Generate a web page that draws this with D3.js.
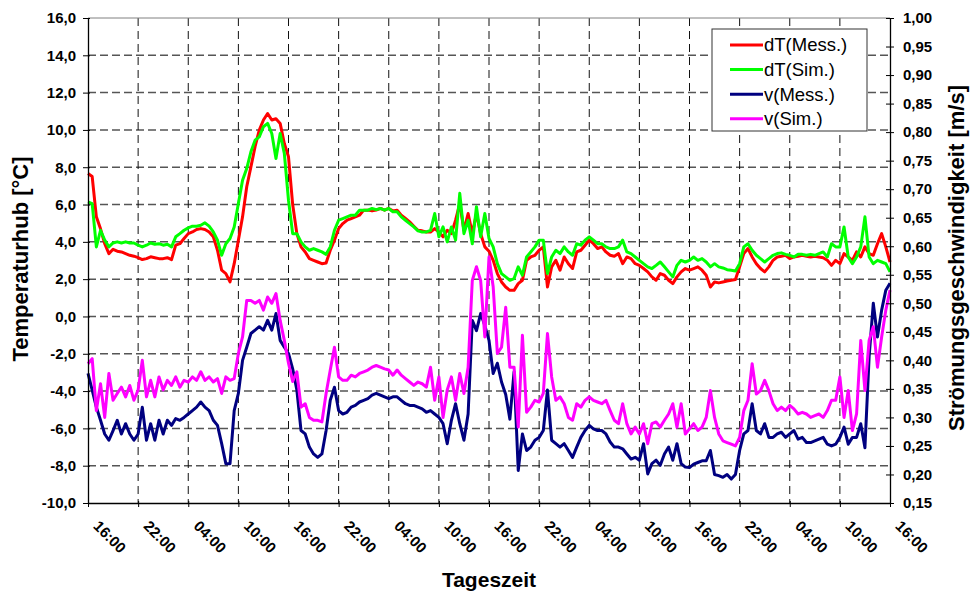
<!DOCTYPE html>
<html>
<head>
<meta charset="utf-8">
<script src="https://cdn.jsdelivr.net/npm/d3@7"></script>
<style>
  html, body { margin: 0; padding: 0; background: #fff; }
  svg { display: block; }
</style>
</head>
<body>
<svg width="973" height="594" font-family="Arial, 'Liberation Sans', sans-serif"></svg>
<script>
// half-hour readings, starting 16:00 on day one (hour 0) up to hour 96
const stepHours = 0.5

const timeLabels = ['16:00', '22:00', '04:00', '10:00', '16:00', '22:00', '04:00', '10:00',
    '16:00', '22:00', '04:00', '10:00', '16:00', '22:00', '04:00', '10:00', '16:00']
const tempTicks = [-10, -8, -6, -4, -2, 0, 2, 4, 6, 8, 10, 12, 14, 16]
const speedTicks = [0.15, 0.20, 0.25, 0.30, 0.35, 0.40, 0.45, 0.50, 0.55, 0.60,
    0.65, 0.70, 0.75, 0.80, 0.85, 0.90, 0.95, 1.00]

// dT measured [°C]
const dtMess = [
    7.66, 7.5, 5.34, 4.7, 3.9, 3.37, 3.6, 3.5, 3.46, 3.37, 3.28, 3.23,
    3.15, 3.05, 3.1, 3.2, 3.15, 3.1, 3.1, 3.15, 3.05, 3.82, 3.9, 4.18,
    4.44, 4.53, 4.66, 4.71, 4.66, 4.53, 4.27, 3.55, 2.48, 2.3, 1.85, 2.83,
    4.09, 5.34, 6.95, 8.02, 9.1, 9.99, 10.53, 10.88, 10.53, 10.6, 10.35, 9.27,
    8.56, 6.0, 4.44, 3.73, 3.46, 3.1, 3.01, 2.92, 2.83, 2.87, 3.55, 4.09,
    4.71, 4.98, 5.16, 5.25, 5.34, 5.43, 5.7, 5.7, 5.66, 5.7, 5.79, 5.7,
    5.79, 5.66, 5.7, 5.43, 5.25, 5.07, 4.84, 4.62, 4.59, 4.53, 4.53, 4.71,
    4.53, 4.27, 4.62, 4.44, 5.16, 6.05, 4.62, 5.52, 4.44, 5.52, 4.44, 3.73,
    3.5, 3.01, 2.3, 1.85, 1.58, 1.4, 1.4, 1.76, 1.94, 3.01, 3.19, 3.28,
    3.55, 3.73, 1.58, 2.66, 3.01, 2.48, 3.19, 2.83, 2.57, 3.46, 3.55, 3.82,
    4.09, 3.9, 3.64, 3.73, 3.46, 3.28, 3.23, 3.37, 2.83, 3.19, 3.1, 2.83,
    2.74, 2.57, 2.39, 2.12, 1.94, 2.3, 2.21, 1.94, 1.76, 2.12, 2.39, 2.57,
    2.48, 2.57, 2.66, 2.48, 2.21, 1.58, 1.85, 1.8, 1.85, 1.9, 1.94, 1.98,
    2.66, 3.37, 3.64, 3.19, 2.83, 2.57, 2.39, 2.66, 3.01, 3.19, 3.23, 3.28,
    3.1, 3.19, 3.23, 3.28, 3.23, 3.19, 3.23, 3.19, 3.15, 3.01, 2.74, 3.01,
    2.83, 3.37, 3.19, 3.01, 3.46, 3.19, 3.73, 3.37, 3.28, 3.9, 4.44, 3.73,
    2.92]

// dT simulated [°C]
const dtSim = [
    6.14, 6.05, 3.73, 4.62, 4.09, 3.73, 3.94, 4.0, 3.94, 4.0, 3.94, 3.94,
    3.82, 3.73, 3.82, 3.94, 3.87, 3.9, 3.82, 3.87, 3.73, 4.27, 4.44, 4.62,
    4.75, 4.84, 4.84, 4.89, 5.02, 4.84, 4.53, 4.09, 3.28, 3.9, 4.18, 4.8,
    6.05, 7.3, 7.93, 8.83, 9.45, 9.63, 10.17, 10.35, 9.81, 8.47, 9.81, 8.74,
    6.23, 4.44, 4.44, 4.0, 3.73, 3.55, 3.64, 3.55, 3.46, 3.33, 3.73, 4.62,
    5.16, 5.25, 5.34, 5.43, 5.43, 5.7, 5.7, 5.7, 5.79, 5.73, 5.79, 5.7,
    5.79, 5.61, 5.61, 5.34, 5.16, 4.98, 4.8, 4.59, 4.53, 4.53, 4.62, 5.52,
    4.27, 4.8, 4.0, 4.8, 4.09, 6.6, 4.44, 5.16, 3.9, 5.88, 4.27, 5.52,
    4.18, 3.73, 2.83, 2.3, 2.12, 1.94, 2.03, 2.66, 2.21, 3.19, 3.46, 3.73,
    4.09, 4.09, 2.3, 3.19, 3.55, 3.37, 3.73, 3.46, 3.28, 3.9, 3.82, 4.09,
    4.27, 4.09, 3.9, 3.9, 3.73, 3.64, 3.64, 3.73, 4.09, 3.46, 3.37, 3.19,
    3.01, 2.83, 2.66, 2.57, 2.74, 2.92, 2.66, 2.39, 2.12, 2.74, 3.01, 2.92,
    3.01, 3.19, 3.01, 3.1, 2.92, 2.66, 2.83, 2.66, 2.6, 2.51, 2.48, 2.44,
    2.83, 3.73, 3.9, 3.55, 3.28, 3.1, 2.92, 3.1, 3.28, 3.37, 3.41, 3.33,
    3.28, 3.19, 3.33, 3.33, 3.28, 3.33, 3.28, 3.37, 3.46, 3.19, 3.9, 3.73,
    3.73, 4.8, 3.19, 2.83, 3.19, 3.73, 5.34, 3.19, 2.83, 3.01, 2.92, 2.83,
    2.39]

// flow speed measured [m/s]
const vMess = [
    0.377, 0.348, 0.318, 0.295, 0.271, 0.260, 0.277, 0.295, 0.271, 0.289, 0.271, 0.260,
    0.271, 0.318, 0.260, 0.289, 0.260, 0.295, 0.271, 0.295, 0.286, 0.298, 0.295, 0.300,
    0.306, 0.312, 0.318, 0.327, 0.318, 0.312, 0.295, 0.286, 0.254, 0.219, 0.219, 0.312,
    0.342, 0.400, 0.423, 0.447, 0.453, 0.459, 0.453, 0.470, 0.453, 0.482, 0.435, 0.423,
    0.412, 0.385, 0.348, 0.277, 0.271, 0.248, 0.236, 0.230, 0.236, 0.277, 0.330, 0.353,
    0.312, 0.306, 0.309, 0.318, 0.321, 0.327, 0.330, 0.333, 0.339, 0.342, 0.339, 0.336,
    0.333, 0.336, 0.336, 0.330, 0.324, 0.321, 0.321, 0.318, 0.315, 0.309, 0.312, 0.306,
    0.300, 0.289, 0.254, 0.295, 0.324, 0.289, 0.260, 0.306, 0.470, 0.452, 0.482, 0.461,
    0.435, 0.377, 0.395, 0.362, 0.340, 0.297, 0.380, 0.207, 0.271, 0.242, 0.248, 0.260,
    0.265, 0.277, 0.348, 0.260, 0.254, 0.248, 0.254, 0.242, 0.230, 0.248, 0.265, 0.277,
    0.286, 0.280, 0.277, 0.277, 0.271, 0.257, 0.248, 0.248, 0.245, 0.236, 0.227, 0.230,
    0.225, 0.254, 0.201, 0.219, 0.225, 0.216, 0.236, 0.248, 0.225, 0.254, 0.219, 0.213,
    0.212, 0.218, 0.221, 0.224, 0.224, 0.242, 0.200, 0.198, 0.195, 0.200, 0.192, 0.200,
    0.242, 0.271, 0.277, 0.324, 0.277, 0.271, 0.289, 0.265, 0.265, 0.271, 0.274, 0.265,
    0.271, 0.277, 0.262, 0.265, 0.256, 0.256, 0.259, 0.262, 0.265, 0.253, 0.250, 0.253,
    0.265, 0.283, 0.253, 0.265, 0.265, 0.289, 0.247, 0.406, 0.500, 0.441, 0.488, 0.523,
    0.535]

// flow speed simulated [m/s]
const vSim = [
    0.394, 0.403, 0.312, 0.359, 0.300, 0.377, 0.330, 0.342, 0.353, 0.336, 0.356, 0.330,
    0.348, 0.400, 0.336, 0.365, 0.336, 0.371, 0.348, 0.365, 0.356, 0.371, 0.353, 0.365,
    0.362, 0.371, 0.365, 0.380, 0.365, 0.371, 0.362, 0.368, 0.342, 0.371, 0.365, 0.368,
    0.412, 0.441, 0.505, 0.505, 0.500, 0.505, 0.488, 0.511, 0.500, 0.517, 0.470, 0.435,
    0.395, 0.363, 0.380, 0.318, 0.324, 0.300, 0.295, 0.295, 0.292, 0.342, 0.383, 0.423,
    0.371, 0.365, 0.365, 0.374, 0.371, 0.377, 0.380, 0.383, 0.388, 0.391, 0.388, 0.385,
    0.383, 0.374, 0.383, 0.374, 0.368, 0.362, 0.356, 0.362, 0.359, 0.353, 0.388, 0.330,
    0.371, 0.300, 0.348, 0.371, 0.330, 0.377, 0.342, 0.388, 0.540, 0.564, 0.540, 0.441,
    0.581, 0.529, 0.412, 0.423, 0.493, 0.388, 0.388, 0.283, 0.444, 0.309, 0.318, 0.330,
    0.327, 0.342, 0.447, 0.371, 0.330, 0.336, 0.324, 0.300, 0.295, 0.324, 0.318, 0.330,
    0.336, 0.330, 0.327, 0.324, 0.330, 0.312, 0.295, 0.289, 0.324, 0.289, 0.271, 0.283,
    0.271, 0.289, 0.254, 0.289, 0.292, 0.283, 0.295, 0.306, 0.324, 0.283, 0.324, 0.271,
    0.280, 0.289, 0.277, 0.283, 0.300, 0.347, 0.300, 0.271, 0.259, 0.256, 0.253, 0.250,
    0.265, 0.312, 0.330, 0.394, 0.341, 0.347, 0.365, 0.347, 0.324, 0.312, 0.318, 0.312,
    0.321, 0.315, 0.306, 0.309, 0.306, 0.300, 0.303, 0.306, 0.300, 0.312, 0.330, 0.330,
    0.371, 0.300, 0.347, 0.277, 0.306, 0.435, 0.347, 0.435, 0.459, 0.388, 0.441, 0.488,
    0.523]

const series = [
    {name: 'dT(Mess.)', values: dtMess, color: '#ff0000', axis: 'left'},
    {name: 'dT(Sim.)', values: dtSim, color: '#00ff00', axis: 'left'},
    {name: 'v(Mess.)', values: vMess, color: '#000080', axis: 'right'},
    {name: 'v(Sim.)', values: vSim, color: '#ff00ff', axis: 'right'}
]

const svg = d3.select('svg')
const width = +svg.attr('width')
const height = +svg.attr('height')
const fontFamily = svg.attr('font-family')
const margin = {top: 18, right: 83, bottom: 91, left: 88}
const innerWidth = width - margin.left - margin.right
const innerHeight = height - margin.top - margin.bottom

// German number format: comma decimal, plain hyphen minus
const de = d3.formatLocale({decimal: ',', thousands: '.', grouping: [3], currency: ['', ' €'], minus: '-'})
const fmtTemp = de.format('.1f')
const fmtSpeed = de.format('.2f')

const hourTicks = timeLabels.map((d, i) => i * 6)

const xScale = d3.scaleLinear().domain([0, 96]).range([0, innerWidth])
const yLeft = d3.scaleLinear().domain([-10, 16]).range([innerHeight, 0])
const yRight = d3.scaleLinear().domain([0.15, 1.0]).range([innerHeight, 0])

const g = svg.append('g')
    .attr('transform', `translate(${margin.left},${margin.top})`)

// grid: horizontal gray dashes, vertical black dashes
g.append('g').selectAll('line')
    .data(tempTicks.filter(t => t > -10 && t < 16))
    .enter().append('line')
    .attr('x1', 0).attr('x2', innerWidth)
    .attr('y1', d => yLeft(d)).attr('y2', d => yLeft(d))
    .attr('stroke', '#555').attr('stroke-width', 1.5)
    .attr('stroke-dasharray', '8,4')

g.append('g').selectAll('line')
    .data(hourTicks.filter(h => h > 0 && h < 96))
    .enter().append('line')
    .attr('x1', d => xScale(d)).attr('x2', d => xScale(d))
    .attr('y1', 0).attr('y2', innerHeight)
    .attr('stroke', '#111').attr('stroke-width', 1)
    .attr('stroke-dasharray', '8,5')

// top frame line
g.append('line')
    .attr('x1', 0).attr('x2', innerWidth).attr('y1', 0).attr('y2', 0)
    .attr('stroke', '#808080').attr('stroke-width', 1)

// data lines
series.forEach(s => {
    const yScale = s.axis === 'left' ? yLeft : yRight
    const line = d3.line()
        .x((d, i) => xScale(i * stepHours))
        .y(d => yScale(d))
    g.append('path')
        .datum(s.values)
        .attr('d', line)
        .attr('fill', 'none')
        .attr('stroke', s.color)
        .attr('stroke-width', 3)
        .attr('stroke-linejoin', 'round')
})

// axes
const styleAxis = sel => {
    sel.attr('font-family', fontFamily).attr('font-size', 15).attr('font-weight', 'bold')
    sel.select('.domain').attr('stroke', '#000').attr('stroke-width', 1.3)
    sel.selectAll('.tick line').attr('stroke', '#000')
    sel.selectAll('.tick text').attr('fill', '#000')
}

const leftAxis = g.append('g')
    .call(d3.axisLeft(yLeft).tickValues(tempTicks).tickFormat(fmtTemp)
        .tickSizeInner(5).tickSizeOuter(0).tickPadding(7))
leftAxis.call(styleAxis)
leftAxis.selectAll('.tick line').attr('x2', -5).attr('x1', 2)

const rightAxis = g.append('g')
    .attr('transform', `translate(${innerWidth},0)`)
    .call(d3.axisRight(yRight).tickValues(speedTicks).tickFormat(fmtSpeed)
        .tickSizeInner(5).tickSizeOuter(0).tickPadding(8))
rightAxis.call(styleAxis)
rightAxis.selectAll('.tick line').attr('x1', -4).attr('x2', 4)

const bottomAxis = g.append('g')
    .attr('transform', `translate(0,${innerHeight})`)
    .call(d3.axisBottom(xScale).tickValues(hourTicks)
        .tickFormat((d, i) => timeLabels[i])
        .tickSizeInner(4).tickSizeOuter(0))
bottomAxis.call(styleAxis)
bottomAxis.selectAll('.tick line').attr('y1', -2).attr('y2', 4)
bottomAxis.selectAll('.tick text')
    .attr('x', 0).attr('y', 0).attr('dy', 0)
    .attr('text-anchor', 'start')
    .attr('transform', 'translate(4,24) rotate(45)')

// axis titles
const titleStyle = (sel, size) => sel
    .attr('fill', '#000')
    .attr('font-size', size)
    .attr('font-weight', 'bold')
    .attr('text-anchor', 'middle')

svg.append('text').call(titleStyle, 21)
    .attr('x', margin.left + innerWidth / 2).attr('y', 587)
    .text('Tageszeit')

svg.append('text').call(titleStyle, 22)
    .attr('transform', 'translate(28,259) rotate(-90)')
    .text('Temperaturhub [°C]')

svg.append('text').call(titleStyle, 22)
    .attr('transform', 'translate(964,258) rotate(-90)')
    .text('Strömungsgeschwindigkeit [m/s]')

// legend
const legend = svg.append('g').attr('transform', 'translate(712,29)')
legend.append('rect')
    .attr('width', 155).attr('height', 102)
    .attr('fill', '#fff').attr('stroke', '#333').attr('stroke-width', 1)

const entry = legend.selectAll('g.entry').data(series)
    .enter().append('g')
    .attr('class', 'entry')
    .attr('transform', (d, i) => `translate(0,${16 + i * 24.6})`)
entry.append('line')
    .attr('x1', 18).attr('x2', 51)
    .attr('stroke', d => d.color).attr('stroke-width', 3)
entry.append('text')
    .attr('x', 52).attr('dy', '0.35em')
    .attr('font-size', 18.5)
    .attr('fill', '#000')
    .text(d => d.name)
</script>
</body>
</html>
